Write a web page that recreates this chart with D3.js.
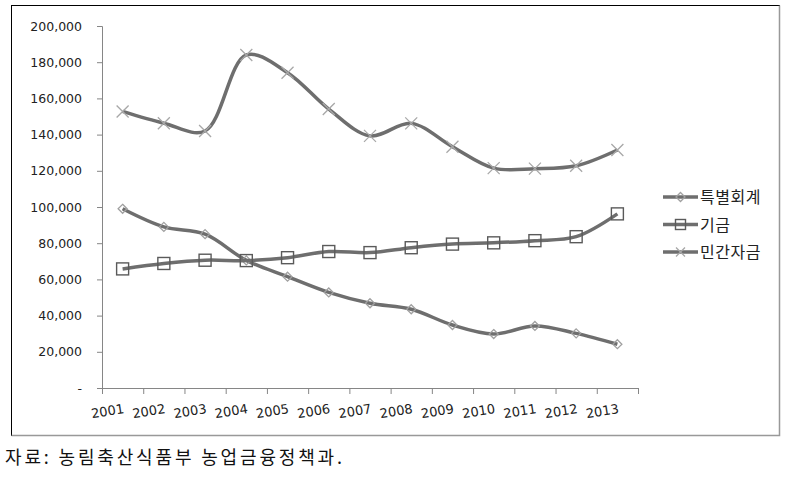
<!DOCTYPE html>
<html>
<head>
<meta charset="utf-8">
<script src="https://cdn.jsdelivr.net/npm/d3@7"></script>
<style>
  body { margin: 0; background: #fff; }
  .axis path, .axis line { stroke: #868686; }
  .axis text { font-family: "DejaVu Sans", sans-serif; font-size: 12.5px; fill: #222; }
</style>
</head>
<body>
<div id="chart"></div>
<script>
var years = ["2001", "2002", "2003", "2004", "2005", "2006", "2007", "2008", "2009", "2010", "2011", "2012", "2013"];
var special = [99000, 89000, 85000, 70500, 61500, 52800, 46800, 43500, 34800, 29800, 34300, 30200, 24200];
var fund = [65800, 68800, 70600, 70400, 72000, 75400, 74800, 77500, 79500, 80200, 81400, 83600, 96200];
var privateFund = [152800, 146300, 142000, 184000, 174200, 154100, 139300, 146200, 133300, 121500, 121200, 122800, 131500];
var seriesNames = ["특별회계", "기금", "민간자금"];
var yTicks = [0, 20000, 40000, 60000, 80000, 100000, 120000, 140000, 160000, 180000, 200000];

var series = [
  { name: seriesNames[0], values: special, marker: "diamond" },
  { name: seriesNames[1], values: fund, marker: "square" },
  { name: seriesNames[2], values: privateFund, marker: "cross" }
];

var width = 799, height = 478;
var margin = { top: 26, left: 102, right: 161, bottom: 90 };
var plotW = 638 - margin.left, plotH = 388 - margin.top;

var svg = d3.select("#chart").append("svg")
  .attr("width", width)
  .attr("height", height);

// frame
svg.append("rect")
  .attr("x", 11.5).attr("y", 5.5)
  .attr("width", 768).attr("height", 430)
  .attr("fill", "#fff").attr("stroke", "#000");
svg.append("path")
  .attr("d", "M779.5,5.5V435.5H11.5")
  .attr("fill", "none").attr("stroke", "#999").attr("stroke-width", 1.5);

var g = svg.append("g")
  .attr("transform", "translate(" + margin.left + "," + margin.top + ")");

var x = d3.scaleBand().domain(years).range([0, plotW]);
var y = d3.scaleLinear().domain([0, 200000]).range([plotH, 0]);

// Y axis
var yAxis = d3.axisLeft(y)
  .tickValues(yTicks)
  .tickSize(5)
  .tickPadding(15)
  .tickFormat(function(d) { return d === 0 ? "-" : d3.format(",")(d); });
g.append("g").attr("class", "axis").call(yAxis);

// X axis, ticks at category boundaries
var xAxisG = g.append("g").attr("class", "axis")
  .attr("transform", "translate(0," + plotH + ")");
xAxisG.append("path").attr("d", "M0,0.5H" + plotW);
xAxisG.selectAll(".tk")
  .data(d3.range(years.length + 1))
  .enter().append("line")
  .attr("x1", function(i) { return i * x.step() + 0.5; })
  .attr("x2", function(i) { return i * x.step() + 0.5; })
  .attr("y1", 0).attr("y2", 6);
xAxisG.selectAll(".lbl")
  .data(years)
  .enter().append("text")
  .attr("text-anchor", "end")
  .style("font-size", "13px")
  .attr("transform", function(d) {
    return "translate(" + (x(d) + x.bandwidth() / 2 + 2) + ",25) rotate(-9)";
  })
  .text(function(d) { return d; });

var line = d3.line()
  .x(function(d, i) { return x(years[i]) + x.bandwidth() / 2; })
  .y(function(d) { return y(d); })
  .curve(d3.curveCatmullRom.alpha(0.5));

function drawMarker(sel, type, size) {
  if (type === "diamond") {
    sel.append("path")
      .attr("d", "M0," + (-size) + "L" + size + ",0L0," + size + "L" + (-size) + ",0Z")
      .attr("fill", "none").attr("stroke", "#a0a0a0").attr("stroke-width", 1.3);
  } else if (type === "square") {
    sel.append("rect")
      .attr("x", -size).attr("y", -size)
      .attr("width", size * 2).attr("height", size * 2)
      .attr("fill", "none").attr("stroke", "#5a5a5a").attr("stroke-width", 1.4);
  } else {
    sel.append("path")
      .attr("d", "M" + (-size) + "," + (-size) + "L" + size + "," + size + "M" + size + "," + (-size) + "L" + (-size) + "," + size)
      .attr("fill", "none").attr("stroke", "#a8a8a8").attr("stroke-width", 1.3);
  }
}

var sizes = { diamond: 4.5, square: 6, cross: 6 };

series.forEach(function(s) {
  g.append("path")
    .datum(s.values)
    .attr("fill", "none")
    .attr("stroke", "#6e6e6e")
    .attr("stroke-width", 3.5)
    .attr("d", line);

  g.selectAll(".m-" + s.marker)
    .data(s.values)
    .enter().append("g")
    .attr("transform", function(d, i) {
      return "translate(" + (x(years[i]) + x.bandwidth() / 2) + "," + y(d) + ")";
    })
    .each(function() { drawMarker(d3.select(this), s.marker, sizes[s.marker]); });
});

// Legend
var legend = svg.append("g").attr("transform", "translate(663,197)");
series.forEach(function(s, i) {
  var item = legend.append("g").attr("transform", "translate(0," + (i * 27.5) + ")");
  item.append("line")
    .attr("x1", 0).attr("x2", 35).attr("y1", 0).attr("y2", 0)
    .attr("stroke", "#6e6e6e").attr("stroke-width", 3.5);
  var m = item.append("g").attr("transform", "translate(17.5,0)");
  drawMarker(m, s.marker, s.marker === "square" ? 5 : 4.5);
  item.append("text")
    .attr("x", 37).attr("y", 6)
    .attr("font-family", "'Noto Sans CJK KR', sans-serif")
    .attr("font-size", 16)
    .attr("letter-spacing", 0.5)
    .attr("fill", "#222")
    .text(s.name);
});

// Source note
svg.append("text")
  .attr("x", 5).attr("y", 464)
  .attr("font-family", "'Noto Sans CJK KR', sans-serif")
  .attr("font-size", 18)
  .attr("textLength", 337)
  .attr("fill", "#111")
  .text("자료: 농림축산식품부 농업금융정책과.");
</script>
</body>
</html>
